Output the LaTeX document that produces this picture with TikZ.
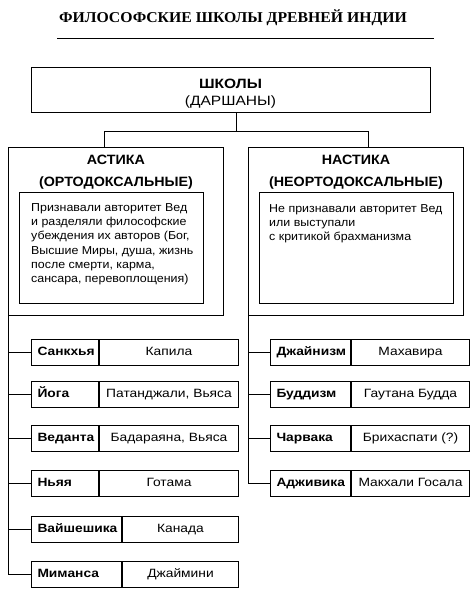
\documentclass[tikz,border=0pt]{standalone}
\usepackage{fontspec}
\setmainfont{Liberation Sans}[FakeStretch=1.15]
\newfontfamily\headfont{Liberation Sans}[FakeStretch=1.06]
\newfontfamily\notefont{Liberation Sans}[FakeStretch=1.08]
\newfontfamily\titlefont{Liberation Serif}[FakeStretch=1.05]
\usetikzlibrary{positioning}

\tikzset{
    box/.style = {draw, line width = 1pt, inner sep = 0pt},
    head/.style = {align = center, inner sep = 0pt, font = \headfont\bfseries\fontsize{13.5}{22}\selectfont},
    note/.style = {align = left, inner sep = 0pt, font = \notefont\fontsize{11.5}{14.3}\selectfont},
    namecell/.style = {box, text width = #1, inner xsep = 6pt, minimum height = 26pt,
        text height = 9pt, text depth = 3pt, align = left, font = \bfseries\fontsize{12}{14}\selectfont},
    authcell/.style = {box, minimum width = #1, minimum height = 26pt,
        text height = 9pt, text depth = 3pt, font = \fontsize{12}{14}\selectfont},
    link/.style = {line width = 1pt}
}

\begin{document}
\begin{tikzpicture}[x = 1pt, y = -1pt]
    \useasboundingbox (0,0) rectangle (474,593);

    % title
    \node[font = \titlefont\bfseries\fontsize{15}{18}\selectfont] (title) at (233,18) {ФИЛОСОФСКИЕ ШКОЛЫ ДРЕВНЕЙ ИНДИИ};
    \draw[line width = 0.9pt] (57,38) -- (434,38);

    % schools
    \node[box, minimum width = 399pt, minimum height = 45pt, align = center,
        font = \fontsize{13.5}{17}\selectfont] (shk) at (230.5,90.5) {\rule{0pt}{16pt}\textbf{ШКОЛЫ}\\(ДАРШАНЫ)};

    \node[box, minimum width = 215pt, minimum height = 168pt, anchor = north west] (ast) at (8,147) {};
    \node[box, minimum width = 215pt, minimum height = 168pt, anchor = north west] (nast) at (248,147) {};
    \node[head, below = 8pt of ast.north] (asthead) {АСТИКА\\(ОРТОДОКСАЛЬНЫЕ)};
    \node[head, below = 8pt of nast.north] (nasthead) {НАСТИКА\\(НЕОРТОДОКСАЛЬНЫЕ)};

    \node[box, minimum width = 184pt, minimum height = 111pt, anchor = north west] (astin) at (19,192) {};
    \node[box, minimum width = 194pt, minimum height = 111pt, anchor = north west] (nastin) at (259,192) {};
    \node[note, anchor = north west, below right = 11pt and 12pt of astin.north west] (astnote)
        {Признавали авторитет Вед\\и разделяли философские\\убеждения их авторов (Бог,\\Высшие Миры, душа, жизнь\\после смерти, карма,\\сансара, перевоплощения)};
    \node[note, anchor = north west, below right = 12pt and 10pt of nastin.north west] (nastnote)
        {Не признавали авторитет Вед\\или выступали\\с критикой брахманизма};

    \coordinate (fork) at (236,132);
    \coordinate (forkl) at (104,147);
    \coordinate (forkr) at (368,147);
    \draw[link] (shk.south -| fork) -- (fork);
    \draw[link] (forkl) |- (forkr |- fork) -- (forkr);

    % astika
    \node[namecell = 55pt, anchor = west] (sank) at (31,352) {Санкхья};
    \node[authcell = 139pt, right = 0pt of sank] (kapila) {Капила};
    \node[namecell = 55pt, anchor = west] (yoga) at (31,394) {Йога};
    \node[authcell = 139pt, right = 0pt of yoga] (patan) {Патанджали, Вьяса};
    \node[namecell = 55pt, anchor = west] (ved) at (31,438.5) {Веданта};
    \node[authcell = 139pt, right = 0pt of ved] (badar) {Бадараяна, Вьяса};
    \node[namecell = 55pt, anchor = west] (nyaya) at (31,483.5) {Ньяя};
    \node[authcell = 139pt, right = 0pt of nyaya] (gotama) {Готама};
    \node[namecell = 78pt, anchor = west] (vaish) at (31,529) {Вайшешика};
    \node[authcell = 116pt, right = 0pt of vaish] (kanada) {Канада};
    \node[namecell = 78pt, anchor = west] (mim) at (31,574) {Миманса};
    \node[authcell = 116pt, right = 0pt of mim] (jaim) {Джаймини};

    \draw[link] (ast.south west) |- (mim.west);
    \draw[link] (ast.south west |- sank.west) -- (sank.west);
    \draw[link] (ast.south west |- yoga.west) -- (yoga.west);
    \draw[link] (ast.south west |- ved.west) -- (ved.west);
    \draw[link] (ast.south west |- nyaya.west) -- (nyaya.west);
    \draw[link] (ast.south west |- vaish.west) -- (vaish.west);

    % nastika
    \node[namecell = 68pt, anchor = west] (jain) at (270,352) {Джайнизм};
    \node[authcell = 118pt, right = 0pt of jain] (mahav) {Махавира};
    \node[namecell = 68pt, anchor = west] (budd) at (270,394) {Буддизм};
    \node[authcell = 118pt, right = 0pt of budd] (gaut) {Гаутана Будда};
    \node[namecell = 68pt, anchor = west] (charv) at (270,438.5) {Чарвака};
    \node[authcell = 118pt, right = 0pt of charv] (brih) {Брихаспати (?)};
    \node[namecell = 68pt, anchor = west] (adzh) at (270,483.5) {Адживика};
    \node[authcell = 118pt, right = 0pt of adzh] (makh) {Макхали Госала};

    \draw[link] (nast.south west) |- (adzh.west);
    \draw[link] (nast.south west |- jain.west) -- (jain.west);
    \draw[link] (nast.south west |- budd.west) -- (budd.west);
    \draw[link] (nast.south west |- charv.west) -- (charv.west);
\end{tikzpicture}
\end{document}
